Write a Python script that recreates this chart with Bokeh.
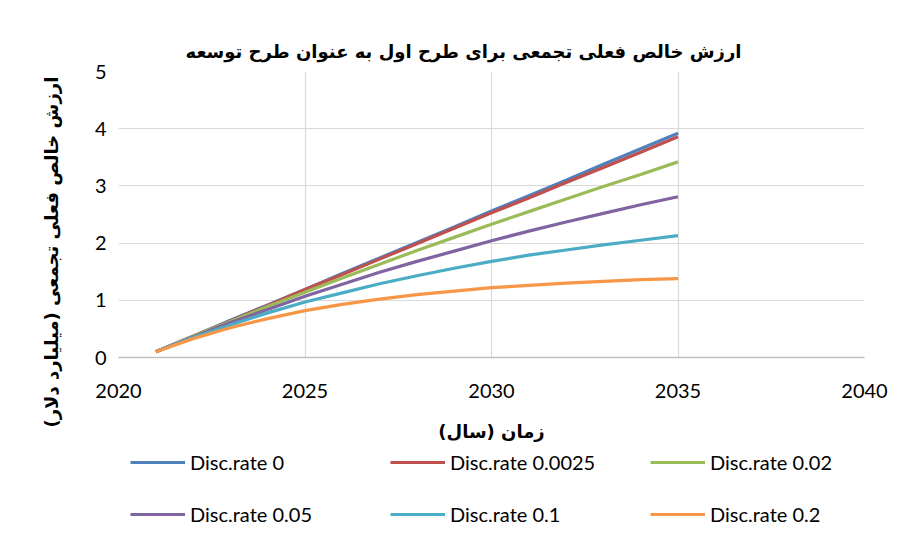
from bokeh.plotting import figure
from bokeh.embed import file_html
from bokeh.resources import INLINE
from bokeh.layouts import column
from bokeh.models import Legend, LegendItem, FixedTicker

years = list(range(2021, 2036))
rate_labels = ["Disc.rate 0", "Disc.rate 0.0025", "Disc.rate 0.02",
               "Disc.rate 0.05", "Disc.rate 0.1", "Disc.rate 0.2"]
npv_r0 = [0.10, 0.37, 0.65, 0.92, 1.19, 1.47, 1.74, 2.01, 2.28, 2.56, 2.83, 3.10, 3.38, 3.65, 3.92]
npv_r0025 = [0.10, 0.37, 0.64, 0.91, 1.19, 1.45, 1.72, 1.99, 2.26, 2.53, 2.79, 3.06, 3.32, 3.59, 3.86]
npv_r02 = [0.10, 0.37, 0.63, 0.89, 1.14, 1.39, 1.63, 1.87, 2.10, 2.33, 2.55, 2.77, 2.99, 3.20, 3.42]
npv_r05 = [0.10, 0.36, 0.61, 0.84, 1.07, 1.28, 1.49, 1.68, 1.86, 2.04, 2.21, 2.37, 2.52, 2.67, 2.81]
npv_r1 = [0.10, 0.35, 0.57, 0.78, 0.97, 1.13, 1.29, 1.43, 1.56, 1.68, 1.79, 1.88, 1.97, 2.05, 2.13]
npv_r2 = [0.10, 0.33, 0.52, 0.68, 0.82, 0.93, 1.02, 1.10, 1.16, 1.22, 1.26, 1.30, 1.33, 1.36, 1.38]
series = [npv_r0, npv_r0025, npv_r02, npv_r05, npv_r1, npv_r2]
colors = ["#4F81BD", "#C0504D", "#9BBB59", "#8064A2", "#4BACC6", "#F79646"]
x_ticks = [2020, 2025, 2030, 2035, 2040]
y_ticks = [0, 1, 2, 3, 4, 5]

title_text = "ارزش خالص فعلی تجمعی برای طرح اول به عنوان طرح توسعه"
ylabel_text = "ارزش خالص فعلی تجمعی (میلیارد دلار)" + "\u00a0" * 12
xlabel_text = "زمان (سال)"

# main chart
p = figure(width=888, height=447, x_range=(2020, 2040), y_range=(0, 5),
           output_backend="svg", toolbar_location=None,
           min_border_left=118, min_border_right=24, min_border_top=71,
           min_border_bottom=0)
p.frame_width = 746
p.frame_height = 286
p.background_fill_color = "white"
p.border_fill_color = "white"
p.outline_line_color = None

p.title.text = title_text
p.title.align = "left"
p.title.offset = 67
p.title.text_font = "DejaVu Sans"
p.title.text_font_style = "bold"
p.title.text_font_size = "18px"
p.title.text_color = "#000000"
p.title.standoff = 19

p.xaxis.ticker = FixedTicker(ticks=x_ticks)
p.yaxis.ticker = FixedTicker(ticks=y_ticks)
for ax in (p.xaxis, p.yaxis):
    ax.major_tick_line_color = None
    ax.minor_tick_line_color = None
    ax.major_tick_out = 0
    ax.major_tick_in = 0
    ax.major_label_text_font = "Lato"
    ax.major_label_text_font_size = "20px"
    ax.major_label_text_color = "#000000"
    ax.axis_label_text_font = "DejaVu Sans"
    ax.axis_label_text_font_style = "bold"
    ax.axis_label_text_font_size = "18px"
    ax.axis_label_text_color = "#000000"
p.yaxis.axis_line_color = None
p.xaxis.axis_line_color = "#BFBFBF"
p.xaxis.axis_line_width = 1.5
p.xaxis.major_label_standoff = 26
p.yaxis.major_label_standoff = 12
p.xaxis.axis_label = xlabel_text
p.yaxis.axis_label = ylabel_text
p.xaxis.axis_label_standoff = 20
p.yaxis.axis_label_standoff = 30

p.xgrid.grid_line_color = "#D9D9D9"
p.ygrid.grid_line_color = "#D9D9D9"
p.xgrid.grid_line_width = 1.2
p.ygrid.grid_line_width = 1.2

for vals, c in zip(series, colors):
    p.line(years, vals, line_color=c, line_width=3.2)

# legend strip (same series, drawn outside its view so only the legend shows)
p2 = figure(width=888, height=91, x_range=(0, 1), y_range=(0, 1),
            output_backend="svg", toolbar_location=None,
            x_axis_type=None, y_axis_type=None, min_border=0)
p2.outline_line_color = None
p2.background_fill_color = "white"
p2.border_fill_color = "white"
renderers = []
for vals, c in zip(series, colors):
    renderers.append(p2.line(years, vals, line_color=c, line_width=3.2))

items = [LegendItem(label=lab, renderers=[r]) for lab, r in zip(rate_labels, renderers)]


def make_legend(its, loc):
    return Legend(items=its, orientation="horizontal", location=loc,
                  glyph_width=55, glyph_height=20, label_standoff=5,
                  label_width=200, spacing=0, padding=0, margin=0,
                  background_fill_alpha=0, border_line_color=None,
                  label_text_font="Lato", label_text_font_size="20px",
                  label_text_color="#000000", label_height=24)


p2.add_layout(make_legend(items[:3], (12, 61)), "center")
p2.add_layout(make_legend(items[3:], (12, 9)), "center")

open("out.html", "w").write(file_html(column(p, p2), INLINE))
